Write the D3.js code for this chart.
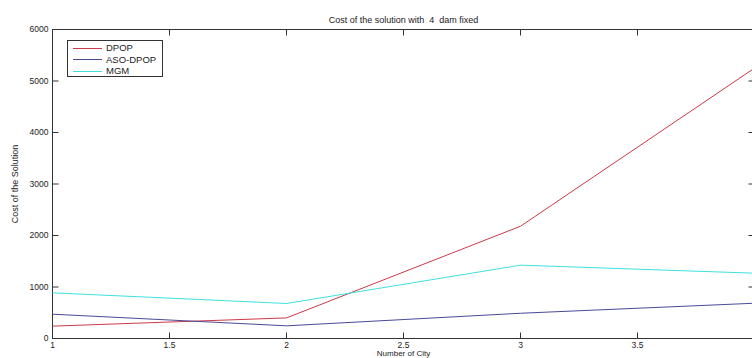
<!DOCTYPE html>
<html><head><meta charset="utf-8">
<script src="https://cdn.jsdelivr.net/npm/d3@7"></script>
<style>
html,body{margin:0;padding:0;background:#fff;}
svg{display:block;font-family:"Liberation Sans",Arial,sans-serif;}
</style></head>
<body><div id="chart"></div>
<script>
const cities = [1, 2, 3, 4];
const dpop = [240, 400, 2180, 5250];
const asoDpop = [472, 246, 490, 685];
const mgm = [887, 680, 1424, 1268];
const seriesNames = ["DPOP", "ASO-DPOP", "MGM"];
const seriesColors = ["#cc3a48", "#4a4a98", "#3fe0e0"];
const xTicks = [1, 1.5, 2, 2.5, 3, 3.5];
const yTicks = [0, 1000, 2000, 3000, 4000, 5000, 6000];
const title = "Cost of the solution with  4  dam fixed";
const xLabel = "Number of City";
const yLabel = "Cost of the Solution";

const W = 752, H = 358;
const m = {left: 52.5, top: 29.5, right: 754.5, bottom: 338.5};
const svg = d3.select("#chart").append("svg").attr("width", W).attr("height", H);
const x = d3.scaleLinear().domain([1, 4]).range([m.left, m.right]);
const y = d3.scaleLinear().domain([0, 6000]).range([m.bottom, m.top]);
const axisColor = "#333";

svg.append("rect").attr("x", m.left).attr("y", m.top)
  .attr("width", m.right - m.left).attr("height", m.bottom - m.top)
  .attr("fill", "none").attr("stroke", axisColor).attr("stroke-width", 1);

function styleAxis(g){
  g.select(".domain").remove();
  g.selectAll(".tick line").attr("stroke", axisColor);
  g.selectAll(".tick text").attr("fill", "#222").attr("font-size", 8.5);
}
const fmt = d => String(d);
svg.append("g").attr("transform", `translate(0,${m.bottom})`)
  .call(d3.axisBottom(x).tickValues(xTicks).tickFormat(fmt).tickSizeInner(-6).tickPadding(3).offset(0))
  .call(styleAxis);
svg.append("g").attr("transform", `translate(0,${m.top})`)
  .call(d3.axisTop(x).tickValues(xTicks).tickFormat("").tickSizeInner(-6).offset(0))
  .call(styleAxis);
svg.append("g").attr("transform", `translate(${m.left},0)`)
  .call(d3.axisLeft(y).tickValues(yTicks).tickFormat(fmt).tickSizeInner(-6).tickPadding(4).offset(0))
  .call(styleAxis);
svg.append("g").attr("transform", `translate(${m.right},0)`)
  .call(d3.axisRight(y).tickValues(yTicks).tickFormat("").tickSizeInner(-6).offset(0))
  .call(styleAxis);

const data = [dpop, asoDpop, mgm];
const line = d3.line().x((d,i) => x(cities[i])).y(d => y(d));
data.forEach((vals, k) => {
  svg.append("path").datum(vals).attr("d", line)
    .attr("fill", "none").attr("stroke", seriesColors[k]).attr("stroke-width", 1);
});

const lg = svg.append("g");
lg.append("rect").attr("x", 67.5).attr("y", 40.5).attr("width", 95).attr("height", 36)
  .attr("fill", "#fff").attr("stroke", axisColor).attr("stroke-width", 1);
seriesNames.forEach((n, k) => {
  const yy = 47.5 + k * 11.5;
  lg.append("line").attr("x1", 73).attr("x2", 102).attr("y1", Math.round(yy) + 0.5).attr("y2", Math.round(yy) + 0.5)
    .attr("stroke", seriesColors[k]).attr("stroke-width", 1);
  lg.append("text").attr("x", 106).attr("y", yy + 3.5).attr("font-size", 9.5)
    .attr("fill", "#222").text(n);
});

svg.append("text").attr("x", (m.left + m.right) / 2).attr("y", 23)
  .attr("text-anchor", "middle").attr("font-size", 9).attr("fill", "#222")
  .style("white-space", "pre").text(title);
svg.append("text").attr("x", (m.left + m.right) / 2).attr("y", 355.5)
  .attr("text-anchor", "middle").attr("font-size", 8).attr("fill", "#222").text(xLabel);
svg.append("text").attr("transform", `translate(18,${(m.top + m.bottom) / 2}) rotate(-90)`)
  .attr("text-anchor", "middle").attr("font-size", 9).attr("fill", "#222").text(yLabel);
</script></body></html>
